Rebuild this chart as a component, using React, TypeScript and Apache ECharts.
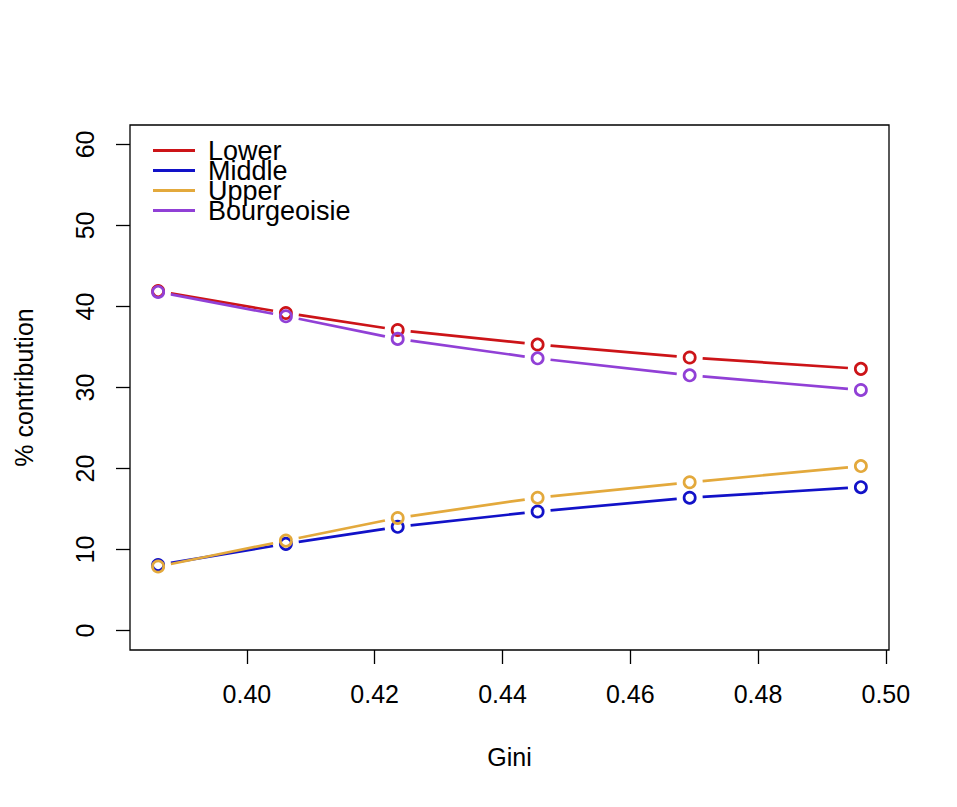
import React, { useEffect, useRef } from "react";
import * as echarts from "echarts";

const GINI = [0.3861, 0.4061, 0.4236, 0.4455, 0.4693, 0.4961];
const LOWER = [41.9, 39.2, 37.1, 35.3, 33.7, 32.3];
const MIDDLE = [8.1, 10.7, 12.8, 14.7, 16.4, 17.7];
const UPPER = [7.9, 11.1, 13.9, 16.4, 18.3, 20.3];
const BOURGEOISIE = [41.8, 38.8, 36.0, 33.6, 31.5, 29.7];

const SERIES_NAMES = ["Lower", "Middle", "Upper", "Bourgeoisie"];
const SERIES_VALUES = [LOWER, MIDDLE, UPPER, BOURGEOISIE];
const COLORS = ["#CC1418", "#1212C8", "#E3A93C", "#9140D6"];

const X_TICKS = [0.4, 0.42, 0.44, 0.46, 0.48, 0.5];
const Y_TICKS = [0, 10, 20, 30, 40, 50, 60];

const FONT = "Liberation Sans, Arial, Helvetica, sans-serif";
const GAP = 13;
const R = 5.6;
const LW = 2.7;

function makeSeries(name: string, ys: number[], color: string) {
  return {
    type: "custom",
    name,
    itemStyle: { color },
    data: GINI.map((x, i) => [x, ys[i]]),
    encode: { x: 0, y: 1 },
    clip: false,
    renderItem: (params: any, api: any) => {
      const i = params.dataIndex;
      const p = api.coord([api.value(0), api.value(1)]);
      const children: any[] = [
        {
          type: "circle",
          shape: { cx: p[0], cy: p[1], r: R },
          style: { fill: "none", stroke: color, lineWidth: LW },
        },
      ];
      if (i < GINI.length - 1) {
        const q = api.coord([GINI[i + 1], ys[i + 1]]);
        const dx = q[0] - p[0];
        const dy = q[1] - p[1];
        const len = Math.sqrt(dx * dx + dy * dy);
        const ux = dx / len;
        const uy = dy / len;
        children.push({
          type: "line",
          shape: {
            x1: p[0] + ux * GAP,
            y1: p[1] + uy * GAP,
            x2: q[0] - ux * GAP,
            y2: q[1] - uy * GAP,
          },
          style: { stroke: color, lineWidth: LW },
        });
      }
      return { type: "group", children };
    },
  };
}

export default function App() {
  const ref = useRef<HTMLDivElement>(null);
  useEffect(() => {
    if (!ref.current) return;
    const chart = echarts.init(ref.current, undefined, { renderer: "svg" });
    chart.setOption({
      animation: false,
      backgroundColor: "#fff",
      textStyle: { fontFamily: FONT },
      grid: {
        left: 122,
        right: 60,
        top: 117,
        bottom: 149,
        show: true,
        borderColor: "#000",
        borderWidth: 1.3,
        containLabel: false,
        outerBoundsMode: "none",
      },
      legend: {
        left: 140,
        top: 124,
        orient: "vertical",
        itemWidth: 42,
        itemHeight: 3,
        itemGap: -7,
        icon: "rect",
        selectedMode: false,
        data: SERIES_NAMES.map((n) => ({ name: n, icon: "rect" })),
        textStyle: {
          fontFamily: FONT,
          fontSize: 27,
          color: "#000",
          padding: [0, 0, 0, 8],
        },
      },
      xAxis: {
        type: "value",
        min: 0.3817,
        max: 0.5005,
        name: "Gini",
        nameLocation: "middle",
        nameGap: 94,
        nameTextStyle: { fontFamily: FONT, fontSize: 25, color: "#000" },
        axisLine: { show: false, onZero: false },
        splitLine: { show: false },
        axisTick: {
          show: true,
          length: 14,
          lineStyle: { color: "#000", width: 1.3 },
          customValues: X_TICKS,
        },
        axisLabel: {
          customValues: X_TICKS,
          formatter: (v: number) => v.toFixed(2),
          fontFamily: FONT,
          fontSize: 25,
          color: "#000",
          margin: 31,
        },
      },
      yAxis: {
        type: "value",
        min: -2.4,
        max: 62.4,
        name: "% contribution",
        nameLocation: "middle",
        nameGap: 94,
        nameRotate: 90,
        nameTextStyle: { fontFamily: FONT, fontSize: 25, color: "#000" },
        axisLine: { show: false, onZero: false },
        splitLine: { show: false },
        axisTick: {
          show: true,
          length: 14,
          lineStyle: { color: "#000", width: 1.3 },
          customValues: Y_TICKS,
        },
        axisLabel: {
          customValues: Y_TICKS,
          rotate: 90,
          fontFamily: FONT,
          fontSize: 25,
          color: "#000",
          margin: 33,
        },
      },
      series: SERIES_NAMES.map((n, k) => makeSeries(n, SERIES_VALUES[k], COLORS[k])),
    });
    return () => chart.dispose();
  }, []);
  return <div ref={ref} style={{ width: 941, height: 791 }} />;
}
